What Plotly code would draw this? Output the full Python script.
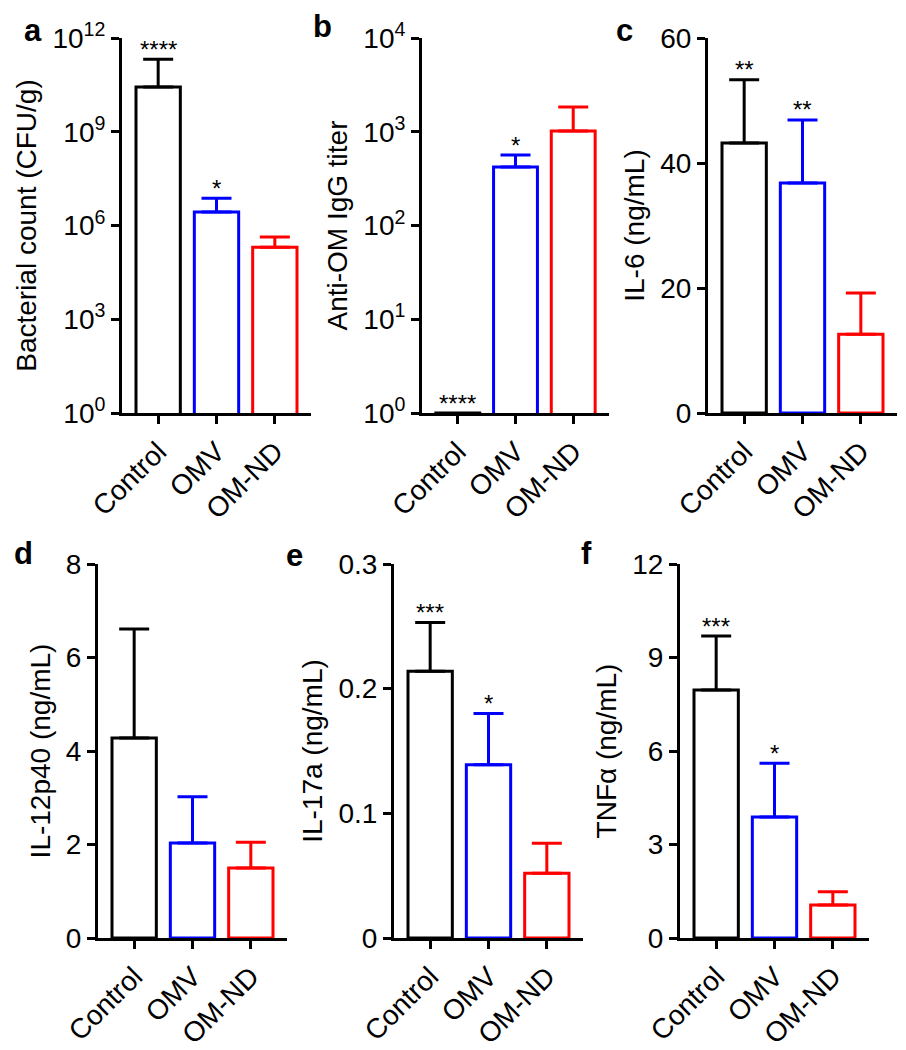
import math
import plotly.graph_objects as go

W, H = 906, 1050

groups = ["Control", "OMV", "OM-ND"]
colors = ["#000000", "#0000ff", "#ff0000"]

# a - bacterial count (log)
bacteria_mean = [2.7e10, 2.7e6, 2.0e5]
bacteria_err = [1.83e11, 4.7e6, 2.3e5]
bacteria_stars = ["****", "*", ""]

# b - anti-OM IgG titer (log)
igg_mean = [1, 421, 1020]
igg_err = [0, 144, 815]
igg_stars = ["****", "*", ""]

# c - IL-6
il6_mean = [43.2, 36.8, 12.6]
il6_err = [10.1, 10.1, 6.6]
il6_stars = ["**", "**", ""]

# d - IL-12p40
il12_mean = [4.28, 2.03, 1.50]
il12_err = [2.33, 0.99, 0.55]
il12_stars = ["", "", ""]

# e - IL-17a
il17_mean = [0.214, 0.139, 0.052]
il17_err = [0.039, 0.041, 0.024]
il17_stars = ["***", "*", ""]

# f - TNFa
tnf_mean = [7.96, 3.88, 1.06]
tnf_err = [1.73, 1.73, 0.42]
tnf_stars = ["***", "*", ""]

log_ticks_a = [1, 1e3, 1e6, 1e9, 1e12]
log_ticks_b = [1, 1e1, 1e2, 1e3, 1e4]

FONT = "Arial, 'Liberation Sans', sans-serif"

# panel: letter, data, y title, pixel box (x0, x1, ytop, ybottom), axis settings
panels = [
    dict(letter="a", mean=bacteria_mean, err=bacteria_err, stars=bacteria_stars,
         title="Bacterial count (CFU/g)", box=(122, 311, 38, 413), log=True,
         rng=[0, 12], tickvals=log_ticks_a, lpos=(33, 30)),
    dict(letter="b", mean=igg_mean, err=igg_err, stars=igg_stars,
         title="Anti-OM IgG titer", box=(422, 609, 38, 413), log=True,
         rng=[0, 4], tickvals=log_ticks_b, lpos=(322, 27)),
    dict(letter="c", mean=il6_mean, err=il6_err, stars=il6_stars,
         title="IL-6 (ng/mL)", box=(708, 897, 38, 413), log=False,
         rng=[0, 60], tickvals=[0, 20, 40, 60], lpos=(624, 30)),
    dict(letter="d", mean=il12_mean, err=il12_err, stars=il12_stars,
         title="IL-12p40 (ng/mL)", box=(98, 287, 564, 938), log=False,
         rng=[0, 8], tickvals=[0, 2, 4, 6, 8], lpos=(23, 553)),
    dict(letter="e", mean=il17_mean, err=il17_err, stars=il17_stars,
         title="IL-17a (ng/mL)", box=(394, 583, 564, 938), log=False,
         rng=[0, 0.3], tickvals=[0, 0.1, 0.2, 0.3], lpos=(294, 555)),
    dict(letter="f", mean=tnf_mean, err=tnf_err, stars=tnf_stars,
         title="TNF\u03b1 (ng/mL)", box=(680, 869, 564, 938), log=False,
         rng=[0, 12], tickvals=[0, 3, 6, 9, 12], lpos=(586, 553)),
]

fig = go.Figure()
annotations = []
layout = {}

for n, p in enumerate(panels, start=1):
    xa = "x" if n == 1 else f"x{n}"
    ya = "y" if n == 1 else f"y{n}"
    for g, m, e, c in zip(groups, p["mean"], p["err"], colors):
        fig.add_trace(go.Bar(
            x=[g], y=[m], xaxis=xa, yaxis=ya, width=0.76,
            marker=dict(color="rgba(255,255,255,0)", line=dict(color=c, width=3)),
            error_y=dict(type="data", array=[e], arrayminus=[0], symmetric=False,
                         color=c, thickness=3, width=15, visible=e > 0),
            showlegend=False, hoverinfo="x+y",
        ))
    x0, x1, yt, yb = p["box"]
    if p["log"]:
        ticktext = [f"10<sup>{int(round(math.log10(v)))}</sup>" for v in p["tickvals"]]
    else:
        ticktext = [f"{v:g}" for v in p["tickvals"]]
    axis_common = dict(showline=True, linecolor="black", linewidth=3, ticks="outside",
                       tickwidth=3, ticklen=8, tickcolor="black", showgrid=False,
                       zeroline=False, automargin=False)
    layout["xaxis" if n == 1 else f"xaxis{n}"] = dict(
        domain=[x0 / W, x1 / W], anchor=ya, range=[-0.62, 2.62],
        tickangle=-45, tickfont=dict(family=FONT, size=28, color="black"), **axis_common)
    layout["yaxis" if n == 1 else f"yaxis{n}"] = dict(
        domain=[1 - yb / H, 1 - yt / H], anchor=xa,
        type="log" if p["log"] else "linear", range=p["rng"],
        tickvals=p["tickvals"], ticktext=ticktext,
        tickfont=dict(family=FONT, size=28, color="black"),
        title=dict(text=p["title"], font=dict(family=FONT, size=28, color="black"), standoff=8),
        **axis_common)
    for g, m, e, s in zip(groups, p["mean"], p["err"], p["stars"]):
        if not s:
            continue
        top = m + e
        yv = math.log10(top) if p["log"] else top
        annotations.append(dict(x=g, y=yv, xref=xa, yref=ya, text=s, showarrow=False,
                                yanchor="middle", yshift=10,
                                font=dict(family=FONT, size=24, color="black")))
    lx, ly = p["lpos"]
    annotations.append(dict(x=lx / W, y=1 - ly / H, xref="paper", yref="paper",
                            text=f"<b>{p['letter']}</b>", showarrow=False,
                            xanchor="center", yanchor="middle",
                            font=dict(family=FONT, size=31, color="black")))

fig.update_layout(
    template="none",
    width=W, height=H, margin=dict(l=0, r=0, t=0, b=0),
    paper_bgcolor="white", plot_bgcolor="white", barmode="overlay",
    font=dict(family=FONT, color="black"),
    annotations=annotations, **layout,
)

# page body margin would shift the figure by 8px
fig.write_html("out.html", config={"displayModeBar": False},
               post_script="document.body.style.margin='0px';")
